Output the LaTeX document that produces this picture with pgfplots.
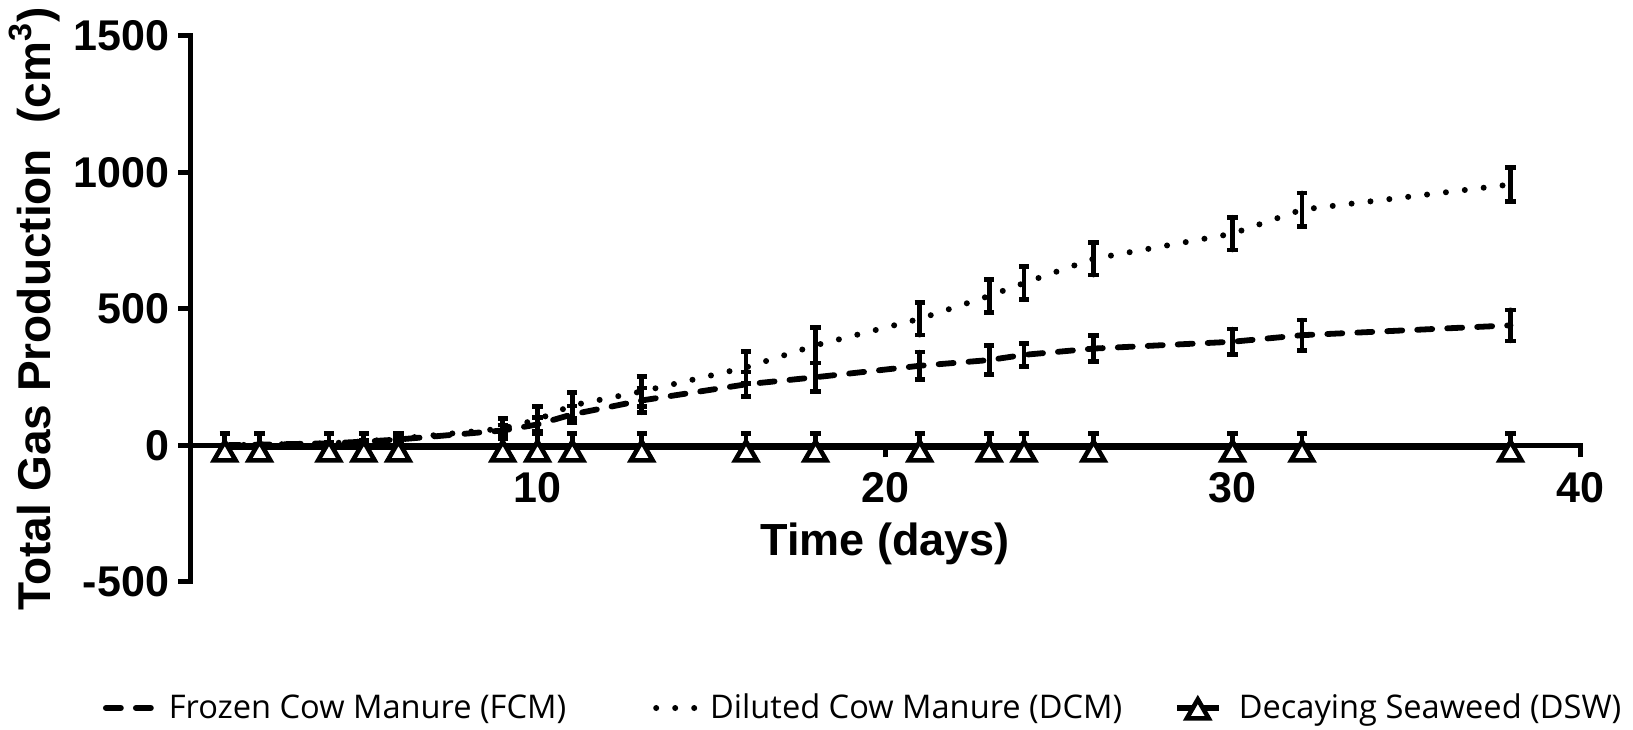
\documentclass[border=0pt]{standalone}
\usepackage{fontspec}
\setmainfont{Liberation Sans}
\newfontfamily\legendfont{Open Sans}
\usepackage{pgfplots}
\pgfplotsset{compat=1.18}
\usepackage{pgfplotstable}

% day, mean, error above (ep), error below (em)
\pgfplotstableread{
day  y    ep   em
1    1    0    0
2    3    0    0
4    8    2    2
5    14   3    3
6    22   5    5
9    55   20   20
10   77   25   25
11   114  30   30
13   165  45   45
16   224  45   45
18   250  52   52
21   292  50   50
23   313  53   53
24   332  42   42
26   355  47   47
30   380  46   46
32   404  55   55
38   440  57   57
}\fcm
\pgfplotstableread{
day  y    ep   em
1    1    0    0
2    3    0    0
4    8    2    2
5    15   3    3
6    25   5    5
9    62   37   37
10   95   48   48
11   147  47   47
13   198  55   55
16   286  58   58
18   367  65   65
21   464  60   60
23   548  60   60
24   595  61   61
26   684  60   60
30   776  60   60
32   864  61   61
38   956  62   62
}\dcm
\pgfplotstableread{
day  y    ep   em
1    -6   50   0
2    -6   50   0
4    -6   50   0
5    -6   50   0
6    -6   50   0
9    -6   50   0
10   -6   50   0
11   -6   50   0
13   -6   50   0
16   -6   50   0
18   -6   50   0
21   -6   50   0
23   -6   50   0
24   -6   50   0
26   -6   50   0
30   -6   50   0
32   -6   50   0
38   -6   50   0
}\dsw

\pgfplotsset{
  fcm legend/.style={legend image code/.code={\draw[#1] (0pt,0pt) -- (25pt,0pt);}},
  dcm legend/.style={legend image code/.code={\path[draw=none] (-18pt,0pt) -- (0pt,0pt);
    \draw[#1] (1pt,0pt) -- (21.5pt,0pt);}},
  dsw legend/.style={legend image code/.code={\draw[#1, mark=none] (0pt,0pt) -- (21pt,0pt);
    \draw[#1, mark size=5.5pt, line width=2pt] plot coordinates {(10.5pt,1.5pt)};
    \path[draw=none] (21pt,0pt) -- (26pt,0pt);}},
}

\begin{document}
\begin{tikzpicture}
\begin{axis}[
  scale only axis,
  width=695pt, height=273pt,
  xmin=0, xmax=40, ymin=-500, ymax=1500,
  clip=false,
  axis x line*=middle,
  axis y line*=left,
  axis line style={line width=2.5pt, line cap=rect},
  xtick={10,20,30,40},
  ytick={-500,0,500,1000,1500},
  tick align=outside,
  major tick length=6pt,
  tick style={line width=2.5pt, black},
  /pgf/number format/assume math mode=true,
  /pgf/number format/1000 sep={},
  tick label style={font=\bfseries\fontsize{21.5}{26}\selectfont},
  xticklabel style={yshift=-4pt},
  yticklabel style={xshift=-1pt},
  xlabel={Time (days)},
  xlabel style={at={(axis description cs:0.5,0.07)}, anchor=center,
    font=\bfseries\fontsize{22.5}{27}\selectfont},
  ylabel={Total Gas Production\ \ (cm\textsuperscript{3})},
  ylabel style={font=\bfseries\fontsize{23}{28}\selectfont},
  legend style={at={(0.485,-0.19)}, anchor=north, draw=none, fill=none,
    legend columns=3,
    font=\legendfont\fontsize{16.3}{19}\selectfont,
    /tikz/every odd column/.append style={column sep=3pt},
    /tikz/every even column/.append style={column sep=24pt}},
  legend cell align=left,
  error bars/y dir=both,
  error bars/y explicit,
  error bars/error bar style={line width=2.3pt, black, solid},
  error bars/error mark options={rotate=90, mark size=2.6pt, line width=2.3pt, black, solid},
]
\addplot[black, line width=2.9pt, line cap=round, dash pattern=on 7.5pt off 7.5pt, mark=none, fcm legend]
  table[x=day, y=y, y error plus=ep, y error minus=em] {\fcm};
\addlegendentry{Frozen Cow Manure (FCM)}
\addplot[black, line width=3pt, line cap=round, dash pattern=on 0pt off 9.5pt, mark=none, dcm legend]
  table[x=day, y=y, y error plus=ep, y error minus=em] {\dcm};
\addlegendentry{Diluted Cow Manure (DCM)}
\addplot[black, line width=2.6pt, mark=triangle*,
  mark options={fill=white, draw=black, line width=2.3pt, mark size=6.3pt, solid, yshift=-3.5pt}, dsw legend]
  table[x=day, y=y, y error plus=ep, y error minus=em] {\dsw};
\addlegendentry{Decaying Seaweed (DSW)}
% fix the page size
\path (rel axis cs:-0.1367,-0.2692) rectangle (rel axis cs:1.0381,1.0659);
\end{axis}
\end{tikzpicture}
\end{document}
